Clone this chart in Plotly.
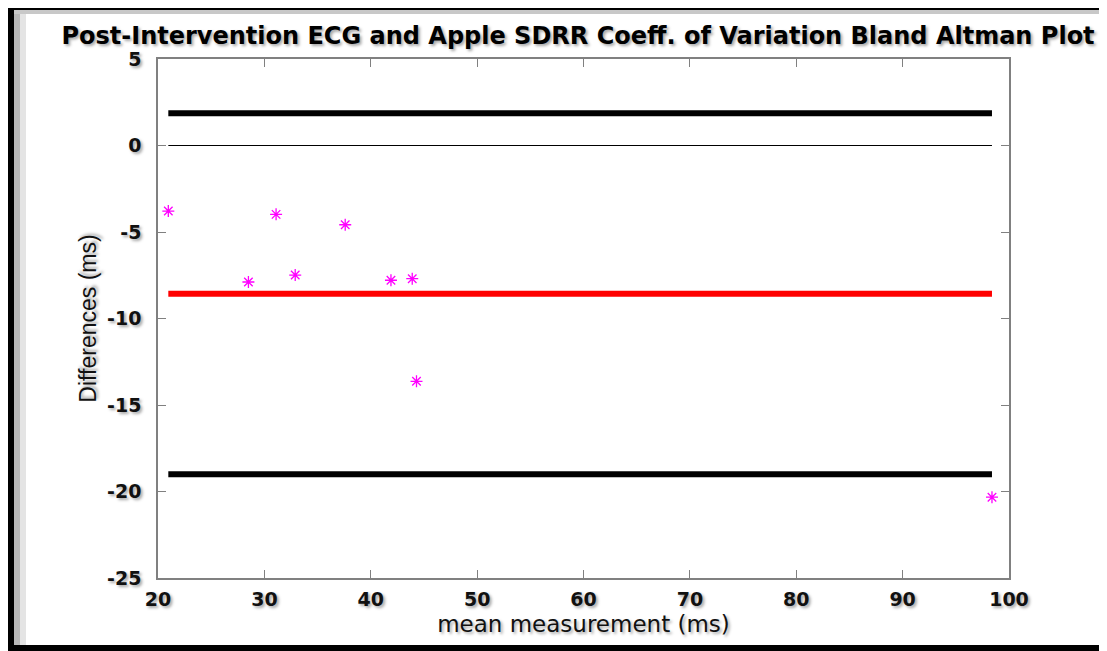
import numpy as np
import plotly.graph_objects as go

# Bland-Altman data (mean vs difference, ms)
mean_ms = [20.97, 28.5, 31.1, 32.9, 37.6, 41.9, 43.9, 44.3, 98.4]
diff_ms = [-3.79, -7.89, -3.98, -7.49, -4.58, -7.79, -7.70, -13.63, -20.33]

x_ticks = [20, 30, 40, 50, 60, 70, 80, 90, 100]
x_labels = ["20", "30", "40", "50", "60", "70", "80", "90", "100"]
y_ticks = [-25, -20, -15, -10, -5, 0, 5]
y_labels = ["-25", "-20", "-15", "-10", "-5", "0", "5"]

# bias and 95% limits of agreement
bias = np.mean(diff_ms)
sd = np.std(diff_ms, ddof=1)
upper = bias + 1.96 * sd
lower = bias - 1.96 * sd
x_span = [min(mean_ms), max(mean_ms)]

# page is offset by the 8px body margin
W, H, OFF = 1107, 651, 8
L, R, T, B = 158, 1009, 59, 578

def px(x):
    return (x - L) / (R - L)

def py(y):
    return (B - y) / (B - T)

shadow = "2px 2px 3px rgba(0,0,0,0.35)"

fig = go.Figure()
fig.add_trace(go.Scatter(x=x_span, y=[upper, upper], mode="lines",
                         line=dict(color="black", width=6), showlegend=False))
fig.add_trace(go.Scatter(x=x_span, y=[0, 0], mode="lines",
                         line=dict(color="black", width=1), showlegend=False))
fig.add_trace(go.Scatter(x=x_span, y=[bias, bias], mode="lines",
                         line=dict(color="red", width=6), showlegend=False))
fig.add_trace(go.Scatter(x=x_span, y=[lower, lower], mode="lines",
                         line=dict(color="black", width=6), showlegend=False))
fig.add_trace(go.Scatter(x=mean_ms, y=diff_ms, mode="markers",
                         marker=dict(symbol="asterisk-open", size=10, color="magenta",
                                     line=dict(color="magenta", width=1.3)),
                         showlegend=False))

axis_common = dict(showline=True, linecolor="#808080", linewidth=1.5, mirror="ticks",
                   ticks="inside", ticklen=8, tickcolor="#808080", showgrid=False,
                   zeroline=False,
                   tickfont=dict(family="DejaVu Sans", size=19, color="#111",
                                 weight="bold", shadow=shadow))

fig.update_xaxes(range=[20, 100], tickvals=x_ticks, ticktext=x_labels, **axis_common,
                 ticklabelstandoff=3,
                 title=dict(text="mean measurement (ms)", standoff=7,
                            font=dict(family="DejaVu Sans", size=23, color="#111",
                                      shadow=shadow)))
fig.update_yaxes(range=[-25, 5], tickvals=y_ticks, ticktext=y_labels, **axis_common,
                 ticklabelstandoff=11,
                 title=dict(text="Differences (ms)", standoff=4,
                            font=dict(family="Liberation Sans", size=23, color="#111",
                                      shadow=shadow)))

# black frame with a soft inner shadow
shapes = []
for x0, y0, x1, y1, c in [(14, 10, 20, 645, "#b8b8b8"), (20, 10, 26, 645, "#e4e4e4"),
                          (14, 10, 1107, 14, "#c8c8c8"),
                          (7, 3, 14, 651, "black"), (7, 3, 1107, 10, "black"),
                          (7, 645, 1107, 651, "black")]:
    shapes.append(dict(type="rect", xref="paper", yref="paper",
                       x0=px(x0), x1=px(x1), y0=py(y1), y1=py(y0),
                       fillcolor=c, line=dict(width=0), layer="below"))

fig.update_layout(
    width=W - OFF, height=H - OFF,
    margin=dict(l=L - OFF, r=W - R, t=T - OFF, b=H - B),
    plot_bgcolor="white", paper_bgcolor="white",
    shapes=shapes,
    title=dict(text="<b>Post-Intervention ECG and Apple SDRR Coeff. of Variation Bland Altman Plot</b>",
               xref="paper", x=px(578), xanchor="center",
               yref="container", y=1 - (36 - OFF) / (H - OFF), yanchor="middle",
               font=dict(family="DejaVu Sans", size=24, color="black", shadow=shadow)),
)

fig.write_html("out.html")
